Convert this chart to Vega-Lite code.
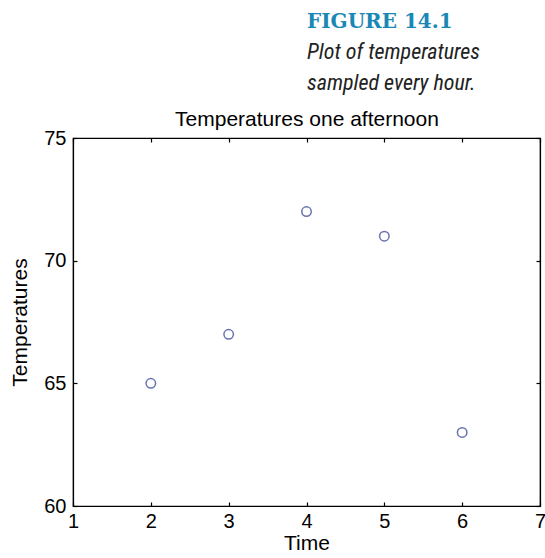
{
  "$schema": "https://vega.github.io/schema/vega-lite/v6.json",
  "width": 467,
  "height": 368,
  "autosize": {"type": "none"},
  "padding": {"left": 73, "top": 138, "right": 5, "bottom": 52},
  "background": "white",
  "title": {
    "text": "FIGURE 14.1",
    "subtitle": ["Plot of temperatures", "sampled every hour."],
    "anchor": "start",
    "frame": "group",
    "dx": 234,
    "font": "DejaVu Serif",
    "fontSize": 20,
    "fontWeight": "bold",
    "color": "#1a88b4",
    "subtitleFont": "Liberation Sans Narrow, Roboto Condensed, Liberation Sans",
    "subtitleFontStyle": "italic",
    "subtitleFontSize": 22,
    "subtitleColor": "#222222",
    "subtitleLineHeight": 31,
    "subtitlePadding": 10,
    "offset": 14
  },
  "data": {
    "values": [
      {"Time": 2, "Temperatures": 65},
      {"Time": 3, "Temperatures": 67},
      {"Time": 4, "Temperatures": 72},
      {"Time": 5, "Temperatures": 71},
      {"Time": 6, "Temperatures": 63}
    ]
  },
  "layer": [
    {
      "mark": {"type": "point", "shape": "circle", "filled": false, "size": 90, "strokeWidth": 1.5, "color": "#26388f"},
      "encoding": {
        "x": {
          "field": "Time", "type": "quantitative",
          "scale": {"domain": [1, 7], "nice": false, "zero": false},
          "axis": {"orient": "bottom", "title": "Time", "values": [1, 2, 3, 4, 5, 6, 7], "tickSize": -4, "labelPadding": 9, "titlePadding": 1, "labelFlush": false}
        },
        "y": {
          "field": "Temperatures", "type": "quantitative",
          "scale": {"domain": [60, 75], "nice": false, "zero": false},
          "axis": {"orient": "left", "title": "Temperatures", "values": [60, 65, 70, 75], "tickSize": -4, "labelPadding": 11, "titlePadding": 13, "labelFlush": false}
        }
      }
    },
    {
      "mark": {"type": "point", "opacity": 0},
      "encoding": {
        "x": {
          "field": "Time", "type": "quantitative",
          "axis": {"orient": "top", "title": "Temperatures one afternoon", "values": [1, 2, 3, 4, 5, 6, 7], "tickSize": -4, "labels": false, "titlePadding": 8}
        },
        "y": {
          "field": "Temperatures", "type": "quantitative",
          "axis": {"orient": "right", "title": null, "values": [60, 65, 70, 75], "tickSize": -4, "labels": false}
        }
      }
    }
  ],
  "resolve": {"axis": {"x": "independent", "y": "independent"}},
  "config": {
    "view": {"stroke": "black", "strokeWidth": 1.2},
    "axis": {
      "grid": false,
      "domainColor": "black",
      "domainWidth": 1.2,
      "tickColor": "black",
      "tickWidth": 1.2,
      "labelFont": "Liberation Sans",
      "labelFontSize": 20,
      "labelColor": "black",
      "titleFont": "Liberation Sans",
      "titleFontSize": 21,
      "titleFontWeight": "normal",
      "titleColor": "black"
    }
  }
}
